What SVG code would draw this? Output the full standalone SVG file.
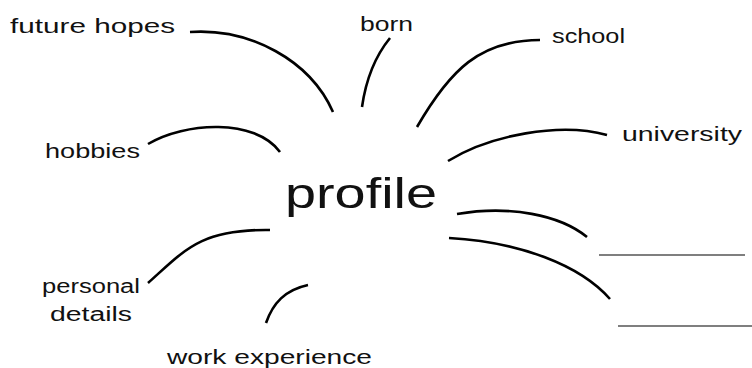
<svg xmlns="http://www.w3.org/2000/svg" width="752" height="368" viewBox="0 0 752 368">
<style>
.lbl{font-family:"Liberation Sans","DejaVu Sans",sans-serif;font-size:20px;fill:#111}
.title{font-family:"Liberation Sans","DejaVu Sans",sans-serif;font-size:42px;fill:#111}
.con path{fill:none;stroke:#000;stroke-width:2.6;stroke-linecap:butt}
.blank{stroke:#555;stroke-width:1.6}
</style>
<rect width="752" height="368" fill="#fff"/>
<g id="connectors" class="con">
<path d="M190,32 C250,28 310,60 333,112"/>
<path d="M390,38 Q368,65 362,107"/>
<path d="M540,40 C480,40 450,70 417,127"/>
<path d="M448,161 C490,135 560,122 607,135"/>
<path d="M148,144 C185,122 255,118 280,152"/>
<path d="M270,230 C200,229 185,250 148,283"/>
<path d="M308,285 C285,290 273,303 266,323"/>
<path d="M457,214 C510,205 560,215 587,237"/>
<path d="M449,238 C520,242 580,265 610,299"/>
</g>
<g id="center"><text class="title" x="285" y="208" textLength="152" lengthAdjust="spacingAndGlyphs">profile</text></g>
<g id="future-hopes"><text class="lbl" x="10" y="33" textLength="165" lengthAdjust="spacingAndGlyphs">future hopes</text></g>
<g id="born"><text class="lbl" x="360" y="31" textLength="53" lengthAdjust="spacingAndGlyphs">born</text></g>
<g id="school"><text class="lbl" x="552" y="43" textLength="73" lengthAdjust="spacingAndGlyphs">school</text></g>
<g id="university"><text class="lbl" x="622" y="141" textLength="120" lengthAdjust="spacingAndGlyphs">university</text></g>
<g id="hobbies"><text class="lbl" x="45" y="158" textLength="95" lengthAdjust="spacingAndGlyphs">hobbies</text></g>
<g id="personal-details"><text class="lbl" x="42" y="293" textLength="98" lengthAdjust="spacingAndGlyphs">personal</text><text class="lbl" x="50" y="321" textLength="82" lengthAdjust="spacingAndGlyphs">details</text></g>
<g id="work-experience"><text class="lbl" x="167" y="364" textLength="205" lengthAdjust="spacingAndGlyphs">work experience</text></g>
<g id="blank-1"><line class="blank" x1="599" y1="255" x2="745" y2="255"/></g>
<g id="blank-2"><line class="blank" x1="618" y1="326" x2="752" y2="326"/></g>
</svg>
